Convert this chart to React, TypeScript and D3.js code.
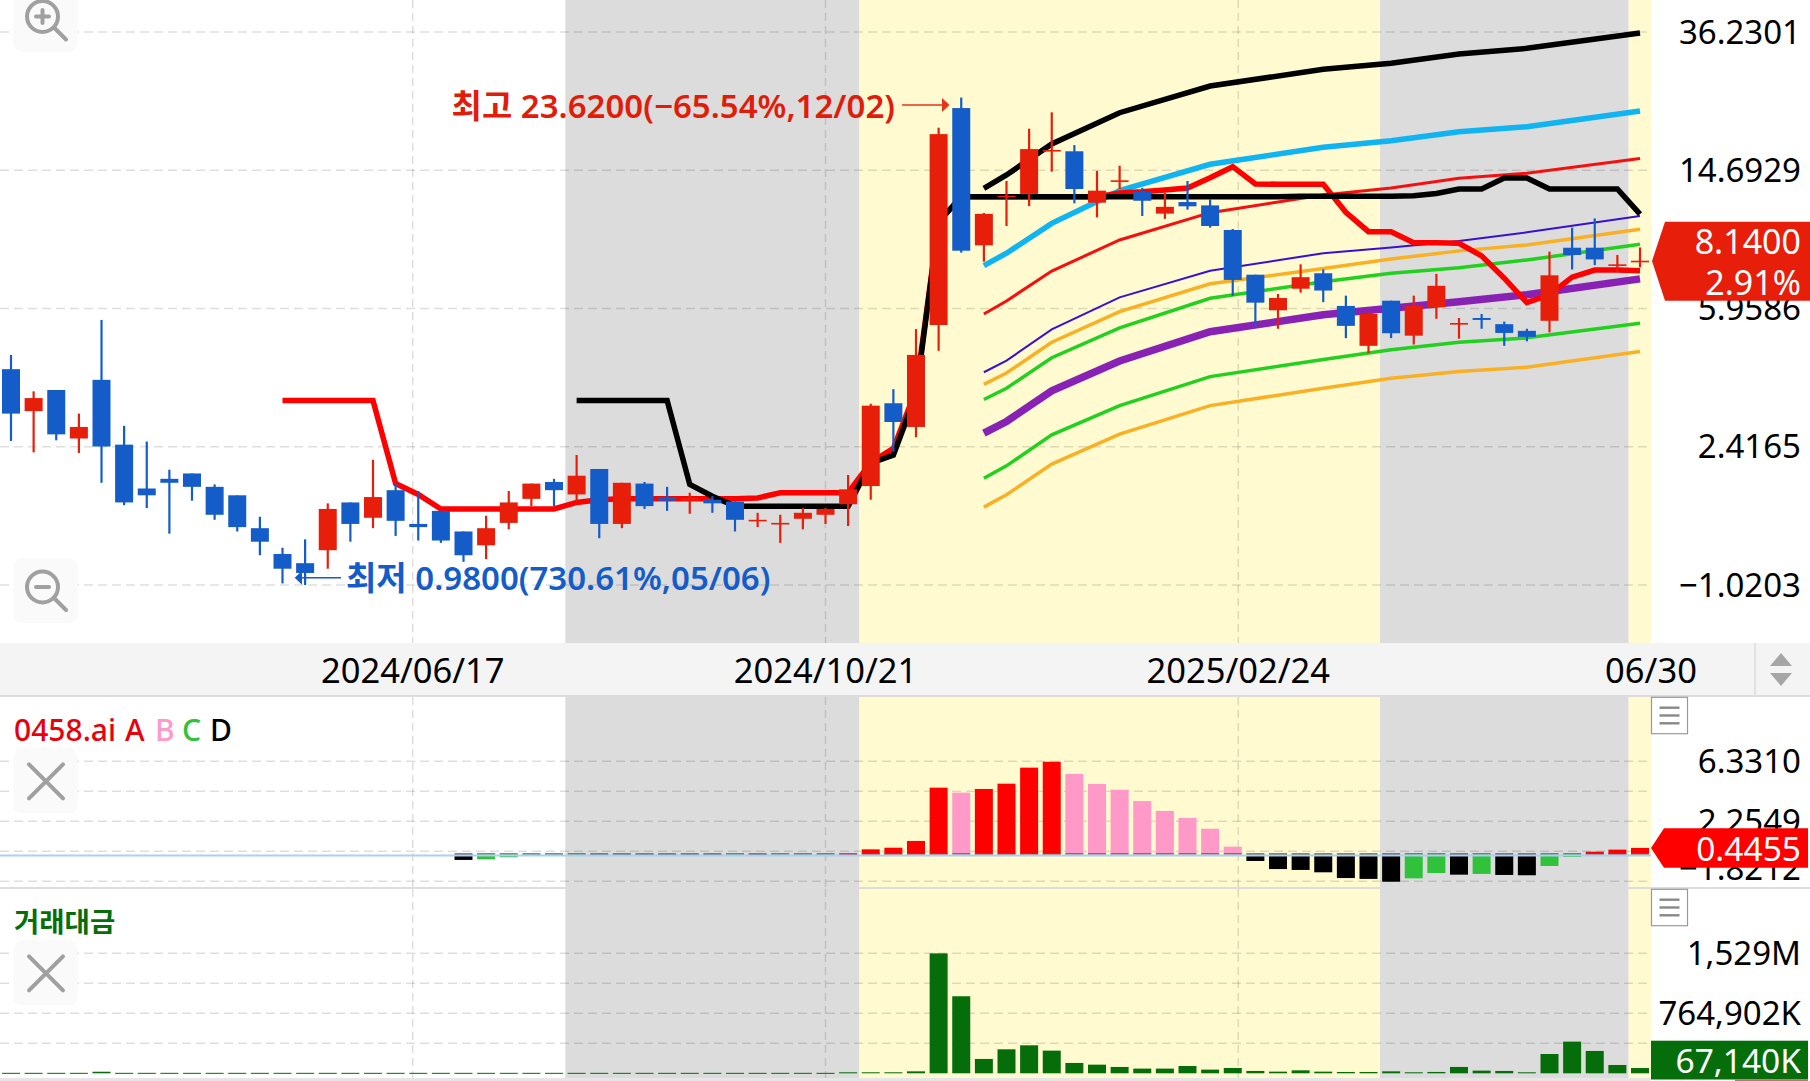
import { useEffect, useRef } from "react";
import * as d3 from "d3";

const WIDTH = 1810;
const HEIGHT = 1081;
const PLOT_RIGHT = 1651;
const FONT = '"Noto Sans", "Noto Sans CJK KR", sans-serif';

const RED = "#e61e0a";
const BLUE = "#145dc8";
const DARK_GREEN = "#056e0a";

// open, high, low, close
const ohlc: [number, number, number, number][] = [
  [4.01, 4.4, 2.51, 3.0], [3.05, 3.47, 2.33, 3.32], [3.5, 3.5, 2.52, 2.62], [2.55, 3.0, 2.32, 2.75],
  [3.74, 5.53, 1.91, 2.42], [2.45, 2.77, 1.65, 1.68], [1.84, 2.5, 1.62, 1.76], [1.96, 2.08, 1.37, 1.91],
  [2.03, 2.03, 1.7, 1.86], [1.86, 1.89, 1.5, 1.55], [1.76, 1.76, 1.39, 1.43], [1.42, 1.53, 1.19, 1.3],
  [1.2, 1.25, 0.99, 1.09], [1.13, 1.32, 0.98, 1.06], [1.23, 1.67, 1.09, 1.61], [1.68, 1.68, 1.3, 1.46],
  [1.52, 2.22, 1.42, 1.74], [1.82, 1.91, 1.35, 1.49], [1.46, 1.81, 1.31, 1.43], [1.59, 1.59, 1.29, 1.31],
  [1.39, 1.39, 1.14, 1.19], [1.27, 1.54, 1.16, 1.42], [1.47, 1.81, 1.41, 1.68], [1.72, 1.9, 1.64, 1.9],
  [1.92, 1.96, 1.64, 1.82], [1.77, 2.29, 1.69, 2.0], [2.09, 2.09, 1.33, 1.46], [1.46, 1.91, 1.42, 1.91],
  [1.9, 1.92, 1.61, 1.64], [1.74, 1.86, 1.59, 1.7], [1.7, 1.79, 1.56, 1.73], [1.71, 1.75, 1.57, 1.67],
  [1.69, 1.69, 1.39, 1.5], [1.49, 1.57, 1.43, 1.5], [1.46, 1.55, 1.29, 1.47], [1.51, 1.62, 1.41, 1.57],
  [1.55, 1.62, 1.46, 1.61], [1.66, 2.01, 1.44, 1.83], [1.87, 3.2, 1.71, 3.16], [3.21, 3.52, 2.34, 2.84],
  [2.75, 5.21, 2.57, 4.4], [5.35, 19.4, 4.52, 18.6], [22.05, 23.62, 8.58, 8.69], [9.0, 11.12, 8.09, 11.05],
  [12.31, 13.7, 10.21, 12.44], [12.59, 19.27, 11.63, 16.87], [16.63, 21.45, 14.56, 16.77], [16.63, 17.32, 11.84, 13.0],
  [11.89, 14.63, 10.8, 12.86], [13.64, 15.14, 13.0, 13.76], [12.77, 13.09, 10.9, 12.04], [11.07, 12.67, 10.7, 11.57],
  [11.94, 13.7, 11.36, 11.61], [11.68, 12.18, 10.1, 10.21], [9.95, 10.01, 6.47, 7.18], [7.43, 7.43, 5.32, 6.19],
  [5.89, 6.55, 5.22, 6.38], [6.78, 7.95, 6.61, 7.31], [7.5, 7.69, 6.21, 6.7], [6.06, 6.48, 4.91, 5.32],
  [4.67, 5.82, 4.45, 5.75], [6.27, 6.27, 4.91, 5.07], [4.99, 6.48, 4.71, 6.06], [6.01, 7.47, 5.57, 6.91],
  [5.38, 5.6, 4.89, 5.42], [5.6, 5.75, 5.22, 5.53], [5.38, 5.47, 4.67, 5.08], [5.15, 5.22, 4.81, 4.95],
  [5.5, 8.64, 5.1, 7.4], [8.86, 10.1, 7.69, 8.45], [8.86, 10.73, 7.91, 8.21], [7.88, 8.45, 7.56, 7.95],
  [8.12, 8.88, 7.79, 8.14],
];

// thick step lines
const stepRedStart = 12;
const stepRed = [
  3.27, 3.27, 3.27, 3.27, 3.27, 1.9, 1.77, 1.61, 1.61, 1.61, 1.61, 1.61, 1.61, 1.68, 1.71,
  1.72, 1.72, 1.72, 1.72, 1.72, 1.72, 1.73, 1.79, 1.79, 1.79, 1.79, 2.18, 2.39, 3.5, 10.48,
  12.36, 12.36, 12.36, 12.36, 12.36, 12.36, 12.36, 12.67, 12.77, 12.92, 13.09, 13.99, 15.04, 13.44,
  13.41, 13.41, 13.41, 11.17, 9.84, 9.84, 9.16, 9.16, 9.12, 8.4, 7.26, 6.19, 6.52, 7.31, 7.66, 7.66, 7.63,
];
const stepBlackStart = 25;
const stepBlack = [
  3.27, 3.27, 3.27, 3.27, 3.27, 1.89, 1.75, 1.64, 1.64, 1.64, 1.64, 1.64, 1.64, 2.17, 2.29, 3.39, 10.48,
  12.36, 12.36, 12.36, 12.36, 12.36, 12.36, 12.36, 12.36, 12.36, 12.36, 12.36, 12.36, 12.36, 12.36, 12.36,
  12.4, 12.4, 12.4, 12.4, 12.4, 12.44, 12.63, 13.0, 13.0, 13.96, 13.96, 13.0, 13.0, 13.0, 13.0, 11.03,
];

// envelope lines, values at these candle indexes
const bandIndex = [43, 44, 46, 49, 53, 58, 61, 64, 67, 72];
const bandTopBlack = [13.06, 14.25, 17.44, 21.39, 25.46, 28.4, 29.54, 31.39, 32.57, 36.0];
const bandCyan = [7.88, 8.55, 10.39, 12.86, 15.28, 17.07, 17.82, 18.9, 19.52, 21.63];
const bandRed = [5.75, 6.26, 7.61, 9.32, 11.14, 12.5, 13.08, 13.94, 14.41, 15.87];
const bandBlue = [3.93, 4.24, 5.2, 6.41, 7.62, 8.55, 8.88, 9.26, 9.8, 10.9];
const bandOrangeUp = [3.63, 3.91, 4.78, 5.84, 7.0, 7.74, 8.23, 8.68, 9.02, 9.99];
const bandGreenUp = [3.29, 3.54, 4.32, 5.25, 6.37, 7.1, 7.5, 7.77, 8.18, 9.06];
const bandPurple = [2.64, 2.85, 3.48, 4.23, 5.12, 5.72, 5.97, 6.23, 6.52, 7.23];
const bandGreenLow = [1.968, 2.133, 2.611, 3.161, 3.82, 4.27, 4.55, 4.78, 4.92, 5.41];
const bandOrangeLow = [1.629, 1.766, 2.157, 2.623, 3.161, 3.54, 3.78, 3.95, 4.06, 4.5];

const priceTicks = [36.2301, 14.6929, 5.9586, 2.4165, 0.98];
const priceTickLabels = ["36.2301", "14.6929", "5.9586", "2.4165", "\u22121.0203"];

const dateLabels = ["2024/06/17", "2024/10/21", "2025/02/24", "06/30"];

// shaded periods in candle positions
const grayPeriods = [[24.5, 37.5], [60.5, 71.5]];
const yellowPeriods = [[37.5, 60.5], [71.5, 72.5]];

// oscillator histogram
const oscStart = 20;
const oscValues = [
  -0.37, -0.33, -0.19, -0.1, -0.04, -0.03, -0.03, -0.04, -0.05, -0.06, -0.07, -0.08, -0.07, -0.09, -0.07, -0.05,
  -0.02, 0.05, 0.35, 0.46, 0.92, 4.54, 4.2, 4.45, 4.81, 5.9, 6.3, 5.47, 4.79, 4.4, 3.63, 2.96, 2.48, 1.75, 0.53,
  -0.44, -0.99, -1.05, -1.21, -1.6, -1.66, -1.85, -1.62, -1.26, -1.37, -1.32, -1.39, -1.41, -0.78, -0.17, 0.19, 0.33, 0.4455,
];
const oscTicks = [6.331, 2.2549];
const oscTickLabels = ["6.3310", "2.2549"];
const oscGrid = [6.331, 4.293, 2.2549, 0.2169, -1.8212];

// traded value, millions
const turnover = [
  6, 6, 6, 6, 20, 6, 6, 6, 6, 6, 6, 6, 6, 6, 6, 6, 6, 6, 6, 6, 6, 6, 6, 6, 6, 6, 6, 6, 6, 6, 6, 6, 6, 6, 6, 6, 6, 13,
  13, 13, 25, 1529, 982, 183, 306, 357, 289, 132, 110, 81, 60, 60, 93, 47, 68, 30, 21, 38, 21, 17, 17, 25, 13, 17,
  81, 34, 30, 13, 246, 404, 285, 106, 67.14,
];
const turnoverTicks = [1529.8, 764.9];
const turnoverTickLabels = ["1,529M", "764,902K"];
const turnoverGrid = [1529.8, 1147.4, 764.9, 382.5];

export default function App() {
  const svgRef = useRef<SVGSVGElement>(null);

  useEffect(() => {
    const svg = d3.select(svgRef.current);
    svg.selectAll("*").remove();

    const x = d3.scaleLinear().domain([0, 72]).range([11, 1640]);
    const yPrice = d3.scaleLog().domain([36.2301, 0.98]).range([32, 585]);
    const yOsc = d3.scaleLinear().domain([6.331, -1.8212]).range([761.3, 881.3]);
    const yTurn = d3.scaleLinear().domain([1529.8, 0]).range([953.3, 1073.3]);

    const panels = [[0, 643], [697, 887], [889, 1078]];

    svg.append("rect").attr("width", WIDTH).attr("height", HEIGHT).attr("fill", "#ffffff");

    // shaded periods
    panels.forEach(([top, bottom]) => {
      const drawPeriods = (periods: number[][], fill: string) => {
        periods.forEach(([a, b]) => {
          svg.append("rect")
            .attr("x", x(a))
            .attr("y", top)
            .attr("width", x(b) - x(a))
            .attr("height", bottom - top)
            .attr("fill", fill);
        });
      };
      drawPeriods(grayPeriods, "#dcdcdc");
      drawPeriods(yellowPeriods, "#fffad0");
    });

    // Date strip and separators
    svg.append("rect").attr("x", 0).attr("y", 643).attr("width", WIDTH).attr("height", 52).attr("fill", "#f4f4f4");
    svg.append("rect").attr("x", 0).attr("y", 695).attr("width", WIDTH).attr("height", 2).attr("fill", "#dddddd");
    svg.append("rect").attr("x", 0).attr("y", 887).attr("width", WIDTH).attr("height", 2).attr("fill", "#dddddd");
    svg.append("rect").attr("x", 0).attr("y", 1078).attr("width", PLOT_RIGHT).attr("height", 3).attr("fill", "#e6e6e6");
    svg.append("line")
      .attr("x1", 1755).attr("x2", 1755).attr("y1", 643).attr("y2", 695)
      .attr("stroke", "#dddddd").attr("stroke-width", 1.5);
    svg.append("polygon").attr("points", "1781,653 1770,666 1792,666").attr("fill", "#a6a6a6");
    svg.append("polygon").attr("points", "1770,673 1792,673 1781,686").attr("fill", "#a6a6a6");

    // Grid
    const gridColor = "rgba(0,0,0,0.13)";
    const hGrid = (y: number) => {
      svg.append("line")
        .attr("x1", 0).attr("x2", PLOT_RIGHT - 4).attr("y1", y).attr("y2", y)
        .attr("stroke", gridColor).attr("stroke-width", 1.5).attr("stroke-dasharray", "9,5");
    };
    priceTicks.forEach((t) => hGrid(yPrice(t)));
    oscGrid.forEach((t) => hGrid(yOsc(t)));
    turnoverGrid.forEach((t) => hGrid(yTurn(t)));
    [1, 2, 3].forEach((k) => {
      const gx = (PLOT_RIGHT * k) / 4;
      panels.forEach(([top, bottom]) => {
        svg.append("line")
          .attr("x1", gx).attr("x2", gx).attr("y1", top).attr("y2", bottom)
          .attr("stroke", gridColor).attr("stroke-width", 1.5).attr("stroke-dasharray", "8,5");
      });
    });

    // Envelope lines
    const bandLine = d3.line<number>()
      .x((_, i) => x(bandIndex[i]))
      .y((d) => yPrice(d));
    const drawBand = (values: number[], color: string, w: number) => {
      svg.append("path")
        .attr("d", bandLine(values))
        .attr("fill", "none")
        .attr("stroke", color)
        .attr("stroke-width", w);
    };
    drawBand(bandOrangeLow, "#f8b024", 3.5);
    drawBand(bandGreenLow, "#22d020", 3.5);
    drawBand(bandPurple, "#8822b4", 7.5);
    drawBand(bandGreenUp, "#22d020", 3.5);
    drawBand(bandOrangeUp, "#f8b024", 3.5);
    drawBand(bandBlue, "#3a10d0", 2);
    drawBand(bandRed, "#f51010", 3);
    drawBand(bandCyan, "#0fb4f0", 5.5);
    drawBand(bandTopBlack, "#000000", 5.5);

    // Step lines
    const stepPath = (values: number[], start: number) =>
      d3.line<number>().x((_, i) => x(start + i)).y((d) => yPrice(d))(values);
    svg.append("path")
      .attr("d", stepPath(stepRed, stepRedStart))
      .attr("fill", "none").attr("stroke", "#ff0000").attr("stroke-width", 5.5);
    svg.append("path")
      .attr("d", stepPath(stepBlack, stepBlackStart))
      .attr("fill", "none").attr("stroke", "#000000").attr("stroke-width", 5.5);

    // Candles
    ohlc.forEach(([o, h, l, c], i) => {
      const color = c >= o ? RED : BLUE;
      const cx = x(i);
      svg.append("line")
        .attr("x1", cx).attr("x2", cx).attr("y1", yPrice(h)).attr("y2", yPrice(l))
        .attr("stroke", color).attr("stroke-width", 2.2);
      const top = yPrice(Math.max(o, c));
      const bodyH = Math.max(yPrice(Math.min(o, c)) - top, 1.6);
      svg.append("rect")
        .attr("x", cx - 9).attr("y", top).attr("width", 18).attr("height", bodyH)
        .attr("fill", color);
    });

    // Oscillator bars
    oscValues.forEach((v, k) => {
      const i = oscStart + k;
      const prev = k > 0 ? oscValues[k - 1] : 0;
      let color = "#000000";
      if (v >= 0) color = v >= prev ? "#ff0000" : "#ff99c8";
      else if (v > prev) color = "#2fc23a";
      const y0 = yOsc(0);
      const y1 = yOsc(v);
      svg.append("rect")
        .attr("x", x(i) - 9).attr("y", Math.min(y0, y1)).attr("width", 18)
        .attr("height", Math.max(Math.abs(y1 - y0), 1))
        .attr("fill", color);
      svg.append("rect")
        .attr("x", x(i) - 9).attr("y", y0 - 1.2).attr("width", 18).attr("height", 1.2)
        .attr("fill", "#555566");
    });
    svg.append("rect")
      .attr("x", 0).attr("y", yOsc(0)).attr("width", PLOT_RIGHT).attr("height", 2)
      .attr("fill", "#a9d1f3");

    // Turnover bars
    turnover.forEach((v, i) => {
      const top = yTurn(v);
      svg.append("rect")
        .attr("x", x(i) - 9).attr("y", top).attr("width", 18)
        .attr("height", Math.max(yTurn(0) - top, 1))
        .attr("fill", DARK_GREEN);
    });

    const label = (
      tx: number,
      ty: number,
      text: string,
      size: number,
      fill: string,
      anchor = "end",
      weight = "400",
    ) => {
      svg.append("text")
        .attr("x", tx).attr("y", ty)
        .attr("text-anchor", anchor)
        .attr("dominant-baseline", "central")
        .attr("font-family", FONT)
        .attr("font-size", size)
        .attr("font-weight", weight)
        .attr("fill", fill)
        .text(text);
    };

    // Right axes
    priceTicks.forEach((t, i) => label(1801, yPrice(t) - 1, priceTickLabels[i], 33, "#000000"));
    oscTicks.forEach((t, i) => label(1801, yOsc(t) - 0.5, oscTickLabels[i], 33, "#000000"));
    // the lowest label is pushed up to stay inside its panel
    label(1801, 867, "\u22121.8212", 33, "#000000");
    turnoverTicks.forEach((t, i) => label(1801, yTurn(t) - 0.5, turnoverTickLabels[i], 33, "#000000"));

    // Date labels
    dateLabels.forEach((d, i) => {
      label((PLOT_RIGHT * (i + 1)) / 4, 669, d, 34.5, "#000000", "middle");
    });

    // Price tags
    svg.append("polygon")
      .attr("points", `${PLOT_RIGHT + 1},261 1665,221.7 ${WIDTH},221.7 ${WIDTH},300.7 1665,300.7`)
      .attr("fill", RED);
    label(1801, 241, "8.1400", 34, "#ffffff");
    label(1801, 281.5, "2.91%", 34, "#ffffff");

    svg.append("polygon")
      .attr("points", `${PLOT_RIGHT},${yOsc(0.4455)} 1664,828.3 1808,828.3 1808,867.7 1664,867.7`)
      .attr("fill", "#ff0000");
    label(1801, 847.5, "0.4455", 33.5, "#ffffff");

    svg.append("rect")
      .attr("x", PLOT_RIGHT).attr("y", 1040.7).attr("width", 157).attr("height", 38.8)
      .attr("fill", DARK_GREEN);
    label(1801, 1060, "67,140K", 33.5, "#ffffff");
    svg.append("rect")
      .attr("x", 1735).attr("y", 1079.5).attr("width", 73).attr("height", 1.5)
      .attr("fill", "#c07070");

    // High / low annotations
    label(895, 105, "최고 23.6200(\u221265.54%,12/02)", 33, "#e01c0a", "end", "600");
    svg.append("line")
      .attr("x1", 902).attr("x2", 942).attr("y1", 105).attr("y2", 105)
      .attr("stroke", "#e8321a").attr("stroke-width", 1.6);
    svg.append("polygon").attr("points", "942,98 949.5,105 942,112").attr("fill", "#e8321a");

    label(346, 577.7, "최저 0.9800(730.61%,05/06)", 33, BLUE, "start", "600");
    svg.append("line")
      .attr("x1", 341).attr("x2", 302).attr("y1", 577.7).attr("y2", 577.7)
      .attr("stroke", BLUE).attr("stroke-width", 1.6);
    svg.append("polygon").attr("points", "302,570.7 294.7,577.7 302,584.7").attr("fill", BLUE);

    // Panel legends
    label(14, 729, "0458.ai", 30, "#e8000b", "start", "500");
    label(125, 729, "A", 30, "#e8000b", "start", "500");
    label(155, 729, "B", 30, "#ff99c8", "start", "500");
    label(182, 729, "C", 30, "#2fc23a", "start", "500");
    label(210, 729, "D", 30, "#000000", "start", "500");
    label(14, 921, "거래대금", 27.5, DARK_GREEN, "start", "700");

    // Zoom buttons
    const button = (top: number, bottom: number) => {
      svg.append("rect")
        .attr("x", 13.4).attr("y", top).attr("width", 64.3).attr("height", bottom - top)
        .attr("rx", 9).attr("fill", "#fafafa");
    };
    const iconLine = (x1: number, y1: number, x2: number, y2: number, w = 4) => {
      svg.append("line")
        .attr("x1", x1).attr("y1", y1).attr("x2", x2).attr("y2", y2)
        .attr("stroke", "#a0a0a0").attr("stroke-width", w).attr("stroke-linecap", "round");
    };
    const magnifier = (cy: number, plus: boolean) => {
      svg.append("circle")
        .attr("cx", 42.5).attr("cy", cy).attr("r", 15.5)
        .attr("fill", "none").attr("stroke", "#a0a0a0").attr("stroke-width", 4);
      iconLine(36, cy, 49, cy);
      if (plus) iconLine(42.5, cy - 6.5, 42.5, cy + 6.5);
      iconLine(55, cy + 12, 66, cy + 23);
    };
    button(-14, 52);
    magnifier(16.5, true);
    button(558, 623);
    magnifier(587, false);

    const closeButton = (top: number) => {
      button(top, top + 65);
      iconLine(29, top + 16, 63, top + 50);
      iconLine(63, top + 16, 29, top + 50);
    };
    closeButton(748.3);
    closeButton(940.3);

    // Menu boxes
    [697.3, 889.3].forEach((top) => {
      svg.append("rect")
        .attr("x", 1651.5).attr("y", top).attr("width", 36).attr("height", 36.4)
        .attr("fill", "#ffffff").attr("stroke", "#999999").attr("stroke-width", 1.2);
      [10.4, 18.2, 26].forEach((dy) => {
        svg.append("line")
          .attr("x1", 1659.5).attr("x2", 1679.5).attr("y1", top + dy).attr("y2", top + dy)
          .attr("stroke", "#888888").attr("stroke-width", 2.4);
      });
    });
  }, []);

  return (
    <svg
      ref={svgRef}
      width={WIDTH}
      height={HEIGHT}
      viewBox={`0 0 ${WIDTH} ${HEIGHT}`}
      style={{ position: "absolute", left: 0, top: 0, display: "block" }}
    />
  );
}
